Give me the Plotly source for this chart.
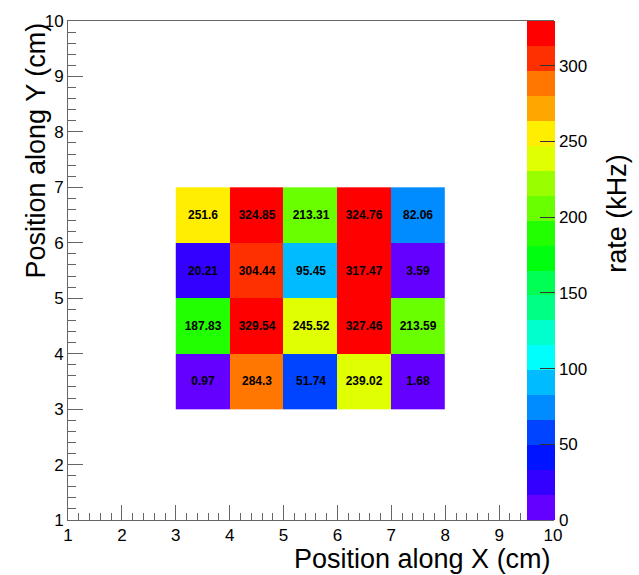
import plotly.graph_objects as go

# Bin centres of the 5 x 4 grid (cm)
x_centers = [3.5, 4.5, 5.5, 6.5, 7.5]
y_centers = [3.5, 4.5, 5.5, 6.5]

# Rate per cell in kHz, rows ordered from bottom (y=3.5) to top (y=6.5)
rate_row_y35 = [0.97, 284.3, 51.74, 239.02, 1.68]
rate_row_y45 = [187.83, 329.54, 245.52, 327.46, 213.59]
rate_row_y55 = [20.21, 304.44, 95.45, 317.47, 3.59]
rate_row_y65 = [251.6, 324.85, 213.31, 324.76, 82.06]
rates = [rate_row_y35, rate_row_y45, rate_row_y55, rate_row_y65]

colorbar_ticks = [0, 50, 100, 150, 200, 250, 300]

# 20-level violet -> red palette
palette = [
    "#6300ff", "#3300ff", "#0014ff", "#0044ff", "#008bff",
    "#00bbff", "#00fffc", "#00ffcc", "#00ff85", "#00ff55",
    "#00ff0e", "#22ff00", "#69ff00", "#99ff00", "#e0ff00",
    "#ffee00", "#ffa700", "#ff7700", "#ff3000", "#ff0000",
]
n = len(palette)
colorscale = []
for i, c in enumerate(palette):
    colorscale.append([i / n, c])
    colorscale.append([(i + 1) / n, c])

zmax = max(max(r) for r in rates)
labels = [[f"{v:g}" for v in row] for row in rates]

FONT = "Liberation Sans, Arial, Helvetica, sans-serif"
AX = "#666666"

W, H = 639, 575
L, R, T, B = 68, 86, 15, 55
plot_w = W - L - R
plot_h = H - T - B
plot_bottom = T + plot_h


def px_x(px):
    """Pixel column -> paper x."""
    return (px - L) / plot_w


def px_y(py):
    """Pixel row -> paper y."""
    return (plot_bottom - py) / plot_h


fig = go.Figure(
    go.Heatmap(
        x=x_centers,
        y=y_centers,
        z=rates,
        zmin=0,
        zmax=zmax,
        colorscale=colorscale,
        text=labels,
        texttemplate="%{text}",
        textfont=dict(family=FONT, size=12, color="black", weight="bold"),
        hoverinfo="skip",
        colorbar=dict(
            xref="paper",
            x=px_x(527),
            xanchor="left",
            xpad=0,
            ypad=0,
            y=0,
            yanchor="bottom",
            len=1,
            lenmode="fraction",
            thickness=28,
            thicknessmode="pixels",
            outlinewidth=0,
            tickmode="array",
            tickvals=colorbar_ticks,
            ticks="inside",
            ticklen=15,
            tickcolor="#333333",
            tickwidth=1,
            tickfont=dict(family=FONT, size=17, color="black"),
        ),
    )
)

axis_common = dict(
    range=[1, 10],
    tick0=1,
    dtick=1,
    ticks="inside",
    ticklen=15,
    tickwidth=1,
    tickcolor=AX,
    showline=True,
    linecolor=AX,
    linewidth=1,
    mirror=True,
    showgrid=False,
    zeroline=False,
    tickfont=dict(family=FONT, size=17, color="black"),
    minor=dict(tick0=1, dtick=0.2, ticks="inside", ticklen=7.5, tickcolor=AX, tickwidth=1),
)

fig.update_xaxes(**axis_common)
fig.update_yaxes(**axis_common)

fig.add_annotation(
    text="Position along X (cm)",
    xref="paper", yref="paper",
    x=1.0, xanchor="right",
    y=px_y(559), yanchor="middle",
    showarrow=False,
    font=dict(family=FONT, size=27, color="black"),
)
fig.add_annotation(
    text="Position along Y (cm)",
    xref="paper", yref="paper",
    x=px_x(35.5), xanchor="center",
    y=1.0, yanchor="top",
    textangle=-90,
    showarrow=False,
    font=dict(family=FONT, size=27, color="black"),
)
fig.add_annotation(
    text="rate (kHz)",
    xref="paper", yref="paper",
    x=px_x(617), xanchor="center",
    y=px_y(210), yanchor="middle",
    textangle=-90,
    showarrow=False,
    font=dict(family=FONT, size=27, color="black"),
)

fig.update_layout(
    width=W,
    height=H,
    margin=dict(l=L, r=R, t=T, b=B, pad=0),
    paper_bgcolor="white",
    plot_bgcolor="white",
    showlegend=False,
)

fig.write_html("out.html", config={"displayModeBar": False})
